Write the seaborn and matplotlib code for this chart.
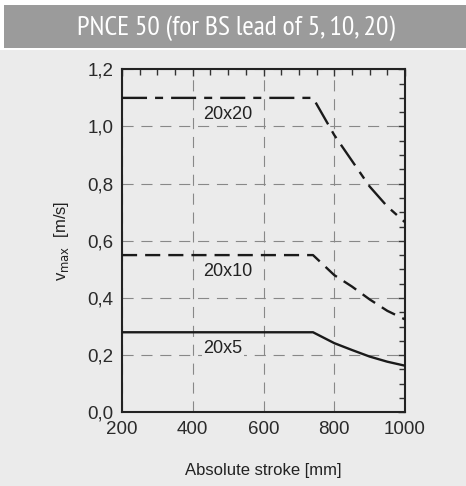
import matplotlib
matplotlib.use("Agg")
import matplotlib.pyplot as plt
import seaborn as sns
import pandas as pd
from matplotlib.patches import Rectangle
from matplotlib.ticker import MultipleLocator, FuncFormatter

# Data
stroke = [200, 740, 800, 850, 900, 950, 1000]
v_20x5 = [0.28, 0.28, 0.242, 0.218, 0.195, 0.177, 0.163]
v_20x10 = [0.55, 0.55, 0.48, 0.44, 0.395, 0.355, 0.325]
v_20x20 = [1.10, 1.10, 0.97, 0.88, 0.79, 0.72, 0.665]
series_names = ["20x5", "20x10", "20x20"]

sns.set_style("white")
plt.rcParams['font.family'] = ['Liberation Sans', 'DejaVu Sans']

W, H = 466, 486
fig = plt.figure(figsize=(W/100, H/100), dpi=100)
fig.patch.set_facecolor("white")

def fx(px): return px / W
def fy(py): return 1 - py / H

# background panels
fig.add_artist(Rectangle((fx(4), fy(48)), fx(462), 43/H, transform=fig.transFigure,
                         facecolor="#9b9b9b", edgecolor="none", zorder=0))
fig.add_artist(Rectangle((0, 0), 1, fy(50), transform=fig.transFigure,
                         facecolor="#ebebeb", edgecolor="none", zorder=0))
fig.text(fx(235.5), fy(28), "PNCE 50 (for BS lead of 5, 10, 20)", color="white",
         ha="center", va="center", fontsize=20,
         family=['PT Sans Narrow', 'Fira Sans Condensed', 'Roboto Condensed',
                 'Archivo Narrow', 'Liberation Sans'])

ax = fig.add_axes([fx(122), fy(412.3), (405-122)/W, (412.3-69.3)/H])
ax.set_facecolor("#ebebeb")

styles = {
    "20x5": None,
    "20x10": (6.4, 3.4),
    "20x20": (10.6, 3.4, 3.4, 3.4),
}
for name, vals in zip(series_names, [v_20x5, v_20x10, v_20x20]):
    df = pd.DataFrame({"stroke": stroke, "v": vals})
    sns.lineplot(data=df, x="stroke", y="v", ax=ax, color="#1a1a1a", lw=1.7, zorder=3)
    l = ax.lines[-1]
    if styles[name] is not None:
        l.set_dashes(styles[name])
    l.set_solid_capstyle("butt")
    l.set_dash_capstyle("butt")

ax.set_xlim(200, 1000)
ax.set_ylim(0, 1.2)
ax.xaxis.set_major_locator(MultipleLocator(200))
ax.xaxis.set_minor_locator(MultipleLocator(50))
ax.yaxis.set_major_locator(MultipleLocator(0.2))
ax.yaxis.set_minor_locator(MultipleLocator(0.05))
ax.yaxis.set_major_formatter(FuncFormatter(lambda v, p: f"{v:.1f}".replace(".", ",")))
ax.tick_params(which="both", direction="in", top=True, right=True, color="#333333",
               labelsize=13.5, labelcolor="#2a2a2a", width=1)
ax.tick_params(which="major", length=5, pad=6)
ax.tick_params(which="minor", length=4)
ax.grid(True, which="major", color="#888888", linestyle=(0, (10, 7)), lw=0.8)
for s in ax.spines.values():
    s.set_color("#222222")
    s.set_linewidth(1.5)

ax.set_xlabel("Absolute stroke [mm]", fontsize=12, color="#222222", labelpad=18)
ax.set_ylabel(r"v$_{\rm max}$  [m/s]", fontsize=12, color="#222222", labelpad=12)

for name, xx, yy in [("20x20", 500, 1.043), ("20x10", 500, 0.492), ("20x5", 485, 0.222)]:
    ax.text(xx, yy, name, fontsize=13, color="#222222", ha="center", va="center",
            bbox=dict(facecolor="#ebebeb", edgecolor="none", pad=1), zorder=4)

fig.savefig("out.png", dpi=100)
